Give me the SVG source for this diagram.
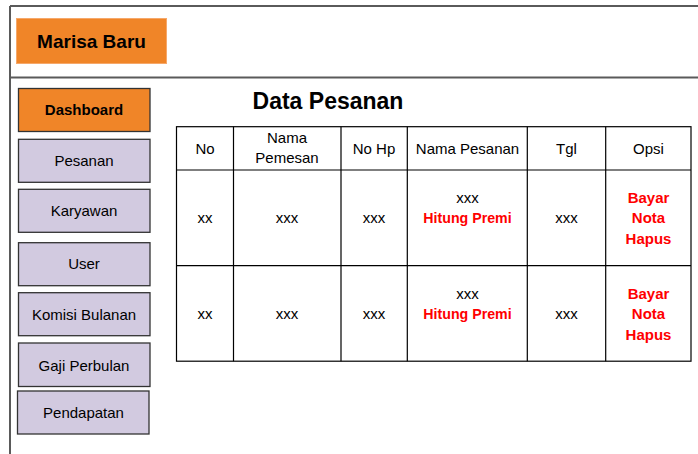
<svg xmlns="http://www.w3.org/2000/svg" width="698" height="454" viewBox="0 0 698 454">
<style>
text{font-family:"Liberation Sans",Arial,sans-serif;text-anchor:middle;fill:#000}
.frame{stroke:#5a5a5a;stroke-width:2;fill:none}
.menu{fill:#d2cae0;stroke:#333;stroke-width:1.3}
.active{fill:#f08528;stroke:#333;stroke-width:1.3}
.m{font-size:15px}
.b{font-weight:bold}
.cell{fill:#fff;stroke:#000;stroke-width:1.2}
.grid{stroke:#000;stroke-width:1.2;fill:none}
.t{font-size:15px}
.r{fill:#ff0000;font-weight:bold}
</style>
<rect width="698" height="454" fill="#fff"/>
<g id="frame">
<path class="frame" d="M10 6 H698 M10 6 V454 M10 77.5 H698"/>
</g>
<g id="header">
<rect x="16.5" y="18.5" width="150" height="45" fill="#f08528" stroke="#f6a86a" stroke-width="1"/>
<text x="91.5" y="48" class="b" style="font-size:19px">Marisa Baru</text>
</g>
<g id="menu-dashboard">
<rect class="active" x="18.5" y="88.5" width="131.5" height="43"/>
<text x="84" y="115" class="b" style="font-size:15px">Dashboard</text>
</g>
<g id="menu-pesanan">
<rect class="menu" x="18.5" y="139.3" width="131.5" height="43"/>
<text x="84" y="166" class="m">Pesanan</text>
</g>
<g id="menu-karyawan">
<rect class="menu" x="18.5" y="189.3" width="131.5" height="43"/>
<text x="84" y="216" class="m">Karyawan</text>
</g>
<g id="menu-user">
<rect class="menu" x="18.5" y="242.7" width="131.5" height="43"/>
<text x="84" y="269" class="m">User</text>
</g>
<g id="menu-komisi">
<rect class="menu" x="18.5" y="292.7" width="131.5" height="43"/>
<text x="84" y="320" class="m">Komisi Bulanan</text>
</g>
<g id="menu-gaji">
<rect class="menu" x="18.5" y="343" width="131.5" height="43.5"/>
<text x="84" y="371" class="m">Gaji Perbulan</text>
</g>
<g id="menu-pendapatan">
<rect class="menu" x="17.5" y="391" width="131.5" height="43"/>
<text x="83.5" y="418" class="m">Pendapatan</text>
</g>
<g id="title">
<text x="328" y="108.5" class="b" style="font-size:23px">Data Pesanan</text>
</g>
<g id="table">
<rect class="cell" x="176.5" y="126.7" width="514.5" height="234.5"/>
<path class="grid" d="M176.5 170 H691 M176.5 265.7 H691 M233.5 126.7 V361.2 M341 126.7 V361.2 M407.3 126.7 V361.2 M527.3 126.7 V361.2 M605.7 126.7 V361.2"/>
<g class="t">
<text x="205" y="153.5">No</text>
<text x="287" y="142.7">Nama</text>
<text x="287" y="163.3">Pemesan</text>
<text x="374" y="153.5">No Hp</text>
<text x="467.5" y="153.5">Nama Pesanan</text>
<text x="566.5" y="153.5">Tgl</text>
<text x="648.5" y="153.5">Opsi</text>
</g>
<g class="t">
<text x="205" y="223">xx</text>
<text x="287" y="223">xxx</text>
<text x="374" y="223">xxx</text>
<text x="467.5" y="203.3">xxx</text>
<text x="467.5" y="222.8" class="r" style="font-size:14.2px">Hitung Premi</text>
<text x="566.5" y="223">xxx</text>
<text x="648.5" y="202.8" class="r">Bayar</text>
<text x="648.5" y="223.3" class="r">Nota</text>
<text x="648.5" y="243.6" class="r">Hapus</text>
</g>
<g class="t">
<text x="205" y="319">xx</text>
<text x="287" y="319">xxx</text>
<text x="374" y="319">xxx</text>
<text x="467.5" y="298.5">xxx</text>
<text x="467.5" y="319" class="r" style="font-size:14.2px">Hitung Premi</text>
<text x="566.5" y="319">xxx</text>
<text x="648.5" y="299" class="r">Bayar</text>
<text x="648.5" y="319.3" class="r">Nota</text>
<text x="648.5" y="339.6" class="r">Hapus</text>
</g>
</g>
<g id="connectors"></g>
</svg>
